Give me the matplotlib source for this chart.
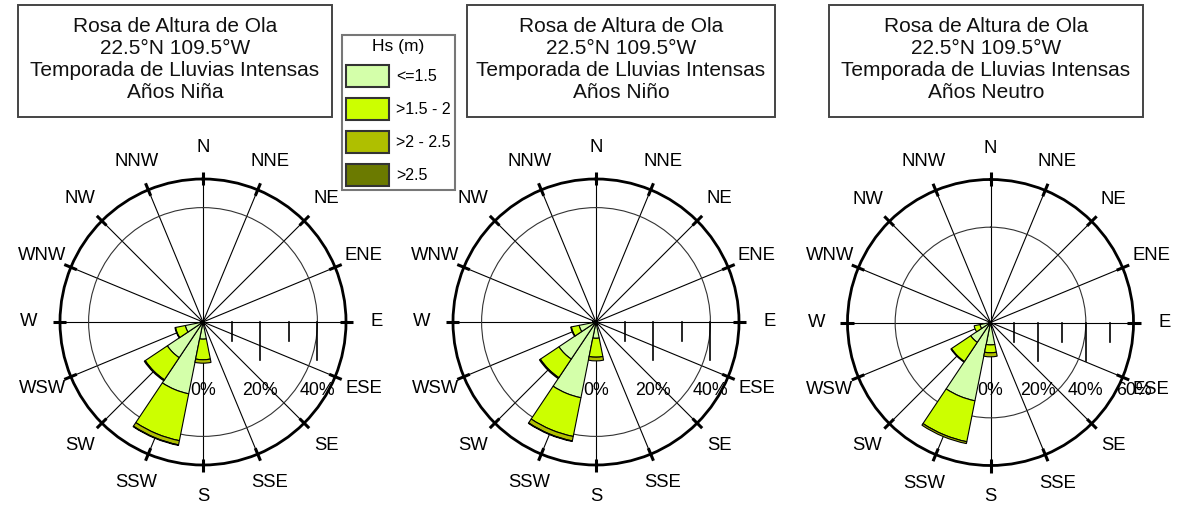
import numpy as np
import matplotlib
matplotlib.use("Agg")
import matplotlib.pyplot as plt
from matplotlib.patches import Rectangle, Patch

plt.rcParams['font.family'] = ['Liberation Sans', 'DejaVu Sans']

W, H = 1180, 508

directions = ["N", "NNE", "NE", "ENE", "E", "ESE", "SE", "SSE",
              "S", "SSW", "SW", "WSW", "W", "WNW", "NW", "NNW"]
hs_classes = ["<=1.5", ">1.5 - 2", ">2 - 2.5", ">2.5"]
hs_colors = ["#d4ffaa", "#ccff00", "#afbf00", "#6b7a00"]

# % frequency per direction (N..NNW) for each Hs class
nina_c1 = [0.3, 0.2, 0.2, 0.2, 0.3, 0.3, 0.4, 0.8, 6.0, 25.6, 15.0, 6.3, 0.8, 0.4, 0.3, 0.3]
nina_c2 = [0, 0, 0, 0, 0, 0, 0, 0.2, 7.2, 16.7, 9.3, 3.5, 0.2, 0, 0, 0]
nina_c3 = [0, 0, 0, 0, 0, 0, 0, 0, 1.2, 1.5, 0.4, 0.2, 0, 0, 0, 0]
nina_c4 = [0, 0, 0, 0, 0, 0, 0, 0, 0, 0.2, 0, 0, 0, 0, 0, 0]

nino_c1 = [0.4, 0.3, 0.3, 0.3, 0.4, 0.4, 0.6, 1.0, 5.7, 27.0, 15.6, 6.0, 1.0, 0.5, 0.4, 0.4]
nino_c2 = [0, 0, 0, 0, 0, 0, 0.1, 0.2, 6.6, 13.8, 7.8, 2.8, 0.2, 0, 0, 0]
nino_c3 = [0, 0, 0, 0, 0, 0, 0, 0, 1.3, 1.6, 0.4, 0.2, 0, 0, 0, 0]
nino_c4 = [0, 0, 0, 0, 0, 0, 0, 0, 0, 0.2, 0, 0, 0, 0, 0, 0]

neutro_c1 = [0.3, 0.2, 0.2, 0.2, 0.3, 0.3, 0.4, 0.8, 9.4, 33.5, 10.0, 4.5, 0.6, 0.3, 0.2, 0.2]
neutro_c2 = [0, 0, 0, 0, 0, 0, 0, 0.1, 3.3, 17.5, 9.7, 2.5, 0.1, 0, 0, 0]
neutro_c3 = [0, 0, 0, 0, 0, 0, 0, 0, 1.7, 0.8, 0.3, 0, 0, 0, 0, 0]
neutro_c4 = [0, 0, 0, 0, 0, 0, 0, 0, 0, 0, 0, 0, 0, 0, 0, 0]

titles = ["Años Niña", "Años Niño", "Años Neutro"]
title_head = "Rosa de Altura de Ola\n22.5°N 109.5°W\nTemporada de Lluvias Intensas\n"

fig = plt.figure(figsize=(W / 100, H / 100), dpi=100)


def draw_rose(cx, cy, rmax, series):
    R = 143
    rect = [(cx - R) / W, (H - cy - R) / H, 2 * R / W, 2 * R / H]
    ax = fig.add_axes(rect, projection='polar')
    ax.set_theta_zero_location('N')
    ax.set_theta_direction(-1)
    ax.set_axisbelow(True)
    theta = np.deg2rad(np.arange(16) * 22.5)
    ax.set_xticks(theta)
    ax.set_xticklabels([])
    ax.set_yticks([40])
    ax.set_yticklabels([])
    ax.xaxis.grid(True, color='black', lw=0.8)
    ax.yaxis.grid(True, color='#333333', lw=0.8)
    ax.spines['polar'].set_linewidth(2.0)

    width = 2 * np.pi / 16
    bottom = np.zeros(16)
    for vals, color in zip(series, hs_colors):
        vals = np.asarray(vals, dtype=float)
        m = vals > 0
        ax.bar(theta[m], vals[m], width=width, bottom=bottom[m], color=color,
               edgecolor='black', linewidth=0.8, zorder=2)
        bottom += vals

    # direction marks on the outer circle and labels
    for t, lab in zip(theta, directions):
        ax.plot([t, t], [rmax * 0.955, rmax * 1.05], color='black', lw=2.2,
                clip_on=False, solid_capstyle='butt', zorder=3)
        ax.text(t, rmax * 1.217, lab, ha='center', va='center', fontsize=13.3,
                clip_on=False)

    # percent scale hanging from the E axis
    for v in range(10, rmax + 1, 10):
        ln = 0.266 if v % 20 == 0 else 0.133
        x = 0.5 + 0.5 * v / rmax
        ax.plot([x, x], [0.5, 0.5 - 0.5 * ln], transform=ax.transAxes,
                color='black', lw=1.2, zorder=1)
    for v in range(0, rmax + 1, 20):
        ax.text(0.5 + 0.5 * v / rmax, 0.262, f"{v}%", transform=ax.transAxes,
                ha='center', va='center', fontsize=12.8, zorder=1)
    ax.set_ylim(0, rmax)
    return ax


draw_rose(203, 322, 50, [nina_c1, nina_c2, nina_c3, nina_c4])
draw_rose(596, 322, 50, [nino_c1, nino_c2, nino_c3, nino_c4])
draw_rose(990.5, 322.5, 60, [neutro_c1, neutro_c2, neutro_c3, neutro_c4])

# title boxes
for (x0, x1), sub in zip([(18, 332), (467, 775), (829, 1143)], titles):
    fig.add_artist(Rectangle((x0 / W, 1 - 117 / H), (x1 - x0) / W, 112 / H,
                             transform=fig.transFigure, fill=False,
                             edgecolor='#444444', lw=1.4))
    fig.text((x0 + x1) / 2 / W, 1 - 60 / H, title_head + sub, ha='center',
             va='center', fontsize=15, color='#111111')

handles = [Patch(facecolor=c, edgecolor='#333333', lw=1.5, label=l)
           for c, l in zip(hs_colors, hs_classes)]
leg = fig.legend(handles=handles, title="Hs (m)", loc='upper left',
                 bbox_to_anchor=(342 / W, 1 - 35 / H), frameon=True,
                 fancybox=False, edgecolor='#555555', fontsize=11.5,
                 title_fontsize=12.5, handlelength=2.7, handleheight=1.75,
                 labelspacing=0.68, handletextpad=0.45, borderpad=0.25,
                 borderaxespad=0)
leg.get_frame().set_linewidth(1.5)

fig.savefig("out.png", dpi=100)
